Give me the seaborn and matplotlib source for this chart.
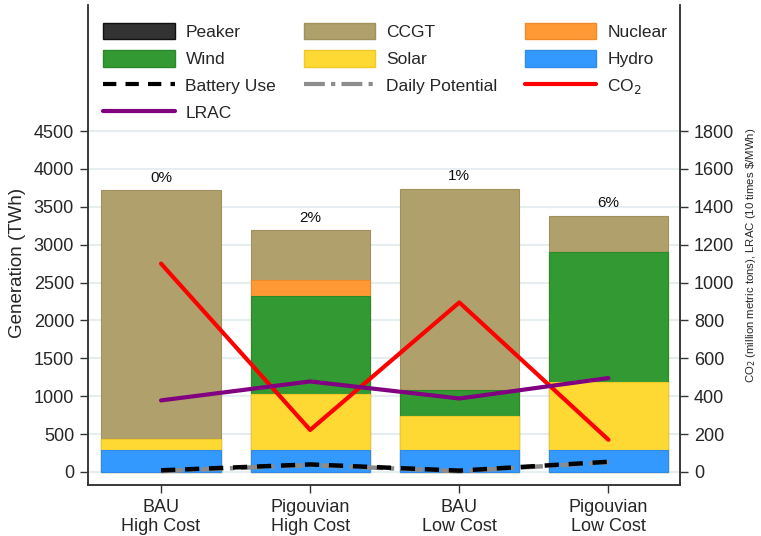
import numpy as np
import pandas as pd
import matplotlib
matplotlib.use("Agg")
import matplotlib.pyplot as plt
from matplotlib.patches import Patch
from matplotlib.lines import Line2D
import seaborn as sns

# Scenario generation mix (TWh)
scenarios = ["BAU\nHigh Cost", "Pigouvian\nHigh Cost", "BAU\nLow Cost", "Pigouvian\nLow Cost"]
hydro = [290, 290, 290, 290]
solar = [150, 735, 450, 900]
wind = [0, 1295, 345, 1715]
nuclear = [0, 210, 0, 0]
ccgt = [3275, 660, 2650, 475]
peaker = [0, 0, 0, 0]

# Share labels printed above each stack
share_labels = ["0%", "2%", "1%", "6%"]

# Storage (TWh)
battery_use = [22, 100, 18, 135]
daily_potential = [12, 92, 10, 128]

# Right-axis series
co2 = [1100, 222, 895, 170]          # million metric tons
lrac = [378, 478, 388, 496]          # 10 x $/MWh

sns.set_theme(style="white")
plt.rcParams["font.family"] = ["Liberation Sans", "DejaVu Sans"]

colors = {
    "Peaker": ("#333333", "#111111"),
    "CCGT": ("#b0a06c", "#a0905c"),
    "Nuclear": ("#ff9933", "#f08a28"),
    "Wind": ("#339933", "#2a8a2a"),
    "Solar": ("#ffd933", "#f0c828"),
    "Hydro": ("#3399ff", "#2f8ae8"),
}

stack_order = [("Hydro", hydro), ("Solar", solar), ("Wind", wind),
               ("Nuclear", nuclear), ("CCGT", ccgt), ("Peaker", peaker)]

df = pd.DataFrame({"scenario": scenarios})
running = np.zeros(len(scenarios))
cum = {}
for name, vals in stack_order:
    running = running + np.asarray(vals, dtype=float)
    cum[name] = running.copy()
    df[name] = running.copy()

fig = plt.figure(figsize=(7.61, 5.36), dpi=100)
ax = fig.add_axes([0.1156, 0.0951, 0.778, 0.8956])

# Stacked bars drawn as cumulative layers, top layer first
for name, _ in reversed(stack_order):
    if name == "Peaker" and not np.any(peaker):
        continue
    face, edge = colors[name]
    sns.barplot(data=df, x="scenario", y=name, color=face, edgecolor=edge,
                linewidth=0.8, width=0.8, saturation=1, errorbar=None, ax=ax,
                order=scenarios)

pos = np.arange(len(scenarios))
totals = cum["Peaker"]
for i, (t, lab) in enumerate(zip(totals, share_labels)):
    ax.annotate(lab, (pos[i], t), xytext=(0, 4), textcoords="offset points",
                ha="center", va="bottom", fontsize=11, color="#111111")

store = pd.DataFrame({"pos": pos, "battery": battery_use, "potential": daily_potential})
sns.lineplot(data=store, x="pos", y="potential", color="#8c8c8c", lw=3.2,
             dashes=False, ax=ax, zorder=4)
ax.lines[-1].set_dashes([5, 1.5, 1, 1.5])
sns.lineplot(data=store, x="pos", y="battery", color="black", lw=3.2, ax=ax, zorder=5)
ax.lines[-1].set_dashes([3.2, 2.2])

ax.set_xlim(-0.49, 3.48)
ax.set_ylim(-172, 6163)
ax.set_yticks(np.arange(0, 4501, 500))
ax.set_xlabel("")
ax.set_ylabel("Generation (TWh)", fontsize=13.5)
ax.yaxis.set_label_coords(-0.105, 0.462)
ax.tick_params(axis="y", labelsize=13, length=6, width=1, color="#333333", left=True, pad=4)
ax.tick_params(axis="x", labelsize=13, length=6, width=1, color="#333333", bottom=True, pad=4)
for lab in ax.get_xticklabels():
    lab.set_linespacing(1.15)
ax.yaxis.grid(True, color="#e6eef1", lw=1.5)
ax.set_axisbelow(True)
for s in ["left", "bottom", "right"]:
    ax.spines[s].set_color("#333333")
    ax.spines[s].set_linewidth(1.1)
ax.spines["top"].set_visible(False)

ax2 = ax.twinx()
right = pd.DataFrame({"pos": pos, "co2": co2, "lrac": lrac})
sns.lineplot(data=right, x="pos", y="co2", color="#ff0000", lw=3, ax=ax2)
sns.lineplot(data=right, x="pos", y="lrac", color="#800080", lw=3, ax=ax2)
ax2.set_ylim(-172 / 2.5, 6163 / 2.5)
ax2.set_yticks(np.arange(0, 1801, 200))
ax2.tick_params(axis="y", labelsize=13, length=6, width=1, color="#333333", right=True, pad=4)
ax2.set_ylabel(r"CO$_2$ (million metric tons), LRAC (10 times \$/MWh)", fontsize=8.2)
ax2.yaxis.set_label_coords(1.108, 0.479)
for s in ["left", "bottom", "right"]:
    ax2.spines[s].set_color("#333333")
    ax2.spines[s].set_linewidth(1.1)
ax2.spines["top"].set_visible(False)
ax2.grid(False)

def patch(name):
    face, edge = colors[name]
    return Patch(facecolor=face, edgecolor=edge, linewidth=1.0, label=name)

h_batt = Line2D([], [], color="black", lw=3, dashes=[3.2, 2.2], label="Battery Use")
h_pot = Line2D([], [], color="#8c8c8c", lw=3, dashes=[5, 1.5, 1, 1.5], label="Daily Potential")
h_co2 = Line2D([], [], color="#ff0000", lw=3, label="CO$_2$")
h_lrac = Line2D([], [], color="#800080", lw=3, label="LRAC")

# column-major ordering so entries read across rows
handles = [patch("Peaker"), patch("Wind"), h_batt, h_lrac,
           patch("CCGT"), patch("Solar"), h_pot,
           patch("Nuclear"), patch("Hydro"), h_co2]
ax2.legend(handles=handles, ncol=3, loc="upper left", bbox_to_anchor=(0.026, 0.963),
           frameon=False, fontsize=12.5, handlelength=4.1, handleheight=1.1,
           handletextpad=0.63, columnspacing=1.6, labelspacing=0.57,
           borderpad=0, borderaxespad=0)

fig.savefig("out.png", dpi=100)
